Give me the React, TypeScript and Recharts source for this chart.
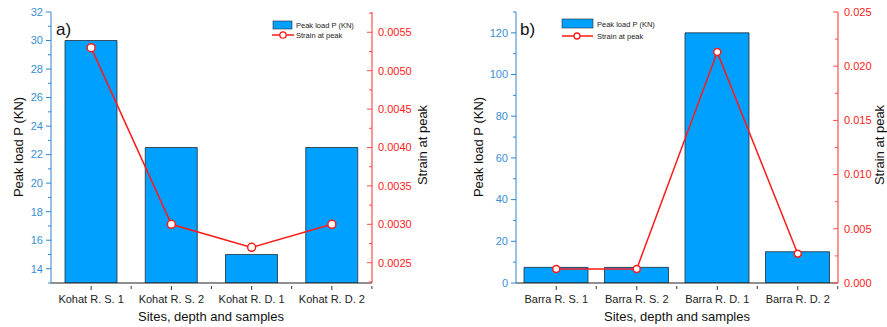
import React from 'react';
import { ComposedChart, Bar, Line, XAxis, YAxis } from 'recharts';

// ---- data ----
const categoriesA = ['Kohat R. S. 1', 'Kohat R. S. 2', 'Kohat R. D. 1', 'Kohat R. D. 2'];
const peakLoadA = [30, 22.5, 15, 22.5];
const strainA = [0.0053, 0.003, 0.0027, 0.003];

const categoriesB = ['Barra R. S. 1', 'Barra R. S. 2', 'Barra R. D. 1', 'Barra R. D. 2'];
const peakLoadB = [7.5, 7.5, 120, 15];
const strainB = [0.0013, 0.0013, 0.0213, 0.0027];

const loadTicksA = [13, 14, 15, 16, 17, 18, 19, 20, 21, 22, 23, 24, 25, 26, 27, 28, 29, 30, 31, 32];
const loadMajorA = [14, 16, 18, 20, 22, 24, 26, 28, 30, 32];
const strainTicksA = [0.00225, 0.0025, 0.00275, 0.003, 0.00325, 0.0035, 0.00375, 0.004, 0.00425, 0.0045, 0.00475, 0.005, 0.00525, 0.0055, 0.00575];
const strainMajorA = [0.0025, 0.003, 0.0035, 0.004, 0.0045, 0.005, 0.0055];

const loadTicksB = [0, 10, 20, 30, 40, 50, 60, 70, 80, 90, 100, 110, 120, 130];
const loadMajorB = [0, 20, 40, 60, 80, 100, 120];
const strainTicksB = [0, 0.0025, 0.005, 0.0075, 0.01, 0.0125, 0.015, 0.0175, 0.02, 0.0225, 0.025];
const strainMajorB = [0, 0.005, 0.01, 0.015, 0.02, 0.025];

const dataA = categoriesA.map((c, i) => ({ name: c, load: peakLoadA[i], strain: strainA[i] }));
const dataB = categoriesB.map((c, i) => ({ name: c, load: peakLoadB[i], strain: strainB[i] }));

// ---- styles ----
const FONT = 'Liberation Sans, Arial, sans-serif';
const BAR_FILL = '#00a0ff';
const BLUE_AXIS = '#2f86d2';
const BLUE_TEXT = '#3a8fd4';
const RED = '#ff1a1a';
const RED_AXIS = '#ff4d4d';
const CHART_W = 443;
const CHART_H = 327;

const isMajor = (v: number, majors: number[]) => majors.some((m) => Math.abs(m - v) < 1e-9);

const makeLeftTick = (majors: number[], fmt: (v: number) => string) => (props: any) => {
  const { x, y, payload } = props;
  const v = payload.value;
  const major = isMajor(v, majors);
  const ax = x + 7;
  const len = major ? 5 : 3;
  return (
    <g>
      <line x1={ax - len} x2={ax} y1={y} y2={y} stroke={BLUE_AXIS} strokeWidth={1} />
      {major && (
        <text x={x - 1} y={y} dy="0.35em" textAnchor="end" fill={BLUE_TEXT} fontSize={11} fontFamily={FONT}>
          {fmt(v)}
        </text>
      )}
    </g>
  );
};

const makeRightTick = (majors: number[], fmt: (v: number) => string) => (props: any) => {
  const { x, y, payload } = props;
  const v = payload.value;
  const major = isMajor(v, majors);
  const ax = x - 7;
  const len = major ? 5 : 3;
  return (
    <g>
      <line x1={ax - len} x2={ax} y1={y} y2={y} stroke={RED_AXIS} strokeWidth={1} />
      {major && (
        <text x={x - 1} y={y} dy="0.35em" textAnchor="start" fill={RED} fontSize={11} fontFamily={FONT}>
          {fmt(v)}
        </text>
      )}
    </g>
  );
};

const makeBottomTick = (half: number) => (props: any) => {
  const { x, y, payload } = props;
  const ay = y - 5;
  return (
    <g>
      <line x1={x} x2={x} y1={ay} y2={ay + 4} stroke="#333" strokeWidth={1} />
      <line x1={x + half} x2={x + half} y1={ay} y2={ay + 3} stroke="#333" strokeWidth={1} />
      <text x={x} y={y + 12} textAnchor="middle" fill="#222" fontSize={11} fontFamily={FONT}>
        {payload.value}
      </text>
    </g>
  );
};

type PanelProps = {
  data: any[];
  left: number;
  loadDomain: [number, number];
  loadTicks: number[];
  loadMajor: number[];
  strainDomain: [number, number];
  strainTicks: number[];
  strainMajor: number[];
  strainFmt: (v: number) => string;
  barSize: number;
  marginLeft: number;
  marginRight: number;
  markerR: number;
};

const Panel = (p: PanelProps) => {
  return (
    <div style={{ position: 'absolute', left: p.left, top: 0, width: CHART_W, height: CHART_H }}>
      <ComposedChart
        width={CHART_W}
        height={CHART_H}
        data={p.data}
        margin={{ top: 12, right: p.marginRight, bottom: 0, left: p.marginLeft }}
      >
        <XAxis
          dataKey="name"
          xAxisId="bottom"
          height={44}
          axisLine={{ stroke: '#222', strokeWidth: 1 }}
          tickLine={false}
          tick={makeBottomTick(40)}
          interval={0}
        />
        <XAxis
          dataKey="name"
          xAxisId="top"
          orientation="top"
          height={0}
          axisLine={{ stroke: '#555', strokeWidth: 1 }}
          tickLine={false}
          tick={false}
        />
        <YAxis
          yAxisId="load"
          orientation="left"
          width={40}
          domain={p.loadDomain}
          ticks={p.loadTicks}
          interval={0}
          allowDataOverflow
          axisLine={{ stroke: BLUE_AXIS, strokeWidth: 1 }}
          tickLine={false}
          tickSize={5}
          tickMargin={2}
          tick={makeLeftTick(p.loadMajor, (v) => String(v))}
        />
        <YAxis
          yAxisId="strain"
          orientation="right"
          width={52}
          domain={p.strainDomain}
          ticks={p.strainTicks}
          interval={0}
          allowDataOverflow
          axisLine={{ stroke: RED_AXIS, strokeWidth: 1.2 }}
          tickLine={false}
          tickSize={5}
          tickMargin={2}
          tick={makeRightTick(p.strainMajor, p.strainFmt)}
        />
        <Bar
          dataKey="load"
          xAxisId="bottom"
          yAxisId="load"
          fill={BAR_FILL}
          stroke="#1f2d3a"
          strokeWidth={0.8}
          barSize={p.barSize}
          isAnimationActive={false}
        />
        <Line
          dataKey="strain"
          xAxisId="bottom"
          yAxisId="strain"
          stroke={RED}
          strokeWidth={1.5}
          dot={{ r: p.markerR, fill: '#fff', stroke: RED, strokeWidth: 1.5 }}
          activeDot={false}
          isAnimationActive={false}
        />
      </ComposedChart>
    </div>
  );
};

const Overlay = () => (
  <svg
    width={887}
    height={327}
    style={{ position: 'absolute', left: 0, top: 0, pointerEvents: 'none' }}
    fontFamily={FONT}
  >
    {/* panel a */}
    <text x={56} y={35} fontSize={17} fill="#111">a)</text>
    <text x={0} y={0} fontSize={13} fill="#111" textAnchor="middle" transform="translate(23,147) rotate(-90)">
      Peak load P (KN)
    </text>
    <text x={0} y={0} fontSize={13} fill="#111" textAnchor="middle" transform="translate(427,145) rotate(-90)">
      Strain at peak
    </text>
    <text x={211} y={321} fontSize={13} fill="#111" textAnchor="middle">Sites, depth and samples</text>
    <rect x={273} y={21} width={19} height={8} fill={BAR_FILL} stroke="#1f2d3a" strokeWidth={0.6} />
    <text x={296} y={28} fontSize={7.5} fill="#222">Peak load P (KN)</text>
    <line x1={272} x2={294} y1={35} y2={35} stroke={RED} strokeWidth={1.5} />
    <circle cx={283} cy={35} r={3.2} fill="#fff" stroke={RED} strokeWidth={1.3} />
    <text x={296} y={38} fontSize={7.5} fill="#222">Strain at peak</text>

    {/* panel b */}
    <text x={520} y={35} fontSize={17} fill="#111">b)</text>
    <text x={0} y={0} fontSize={13} fill="#111" textAnchor="middle" transform="translate(483,147) rotate(-90)">
      Peak load P (KN)
    </text>
    <text x={0} y={0} fontSize={13} fill="#111" textAnchor="middle" transform="translate(884,145) rotate(-90)">
      Strain at peak
    </text>
    <text x={677} y={321} fontSize={13} fill="#111" textAnchor="middle">Sites, depth and samples</text>
    <rect x={562} y={19} width={31} height={9} fill={BAR_FILL} stroke="#1f2d3a" strokeWidth={0.6} />
    <text x={597} y={27} fontSize={7.5} fill="#222">Peak load P (KN)</text>
    <line x1={562} x2={593} y1={36} y2={36} stroke={RED} strokeWidth={1.5} />
    <circle cx={577} cy={36} r={3} fill="#fff" stroke={RED} strokeWidth={1.3} />
    <text x={597} y={39} fontSize={7.5} fill="#222">Strain at peak</text>
  </svg>
);

export default function App() {
  return (
    <div style={{ position: 'absolute', left: 0, top: 0, width: 887, height: 327, background: '#fff', overflow: 'hidden' }}>
      <Panel
        data={dataA}
        left={0}
        loadDomain={[13, 32]}
        loadTicks={loadTicksA}
        loadMajor={loadMajorA}
        strainDomain={[0.002236, 0.005764]}
        strainTicks={strainTicksA}
        strainMajor={strainMajorA}
        strainFmt={(v) => v.toFixed(4)}
        barSize={52}
        marginLeft={11}
        marginRight={CHART_W - 372 - 52}
        markerR={4}
      />
      <Panel
        data={dataB}
        left={444}
        loadDomain={[0, 130]}
        loadTicks={loadTicksB}
        loadMajor={loadMajorB}
        strainDomain={[0, 0.025]}
        strainTicks={strainTicksB}
        strainMajor={strainMajorB}
        strainFmt={(v) => v.toFixed(3)}
        barSize={64}
        marginLeft={516 - 444 - 40}
        marginRight={CHART_W - (838 - 444) - 52}
        markerR={3.5}
      />
      <Overlay />
    </div>
  );
}
